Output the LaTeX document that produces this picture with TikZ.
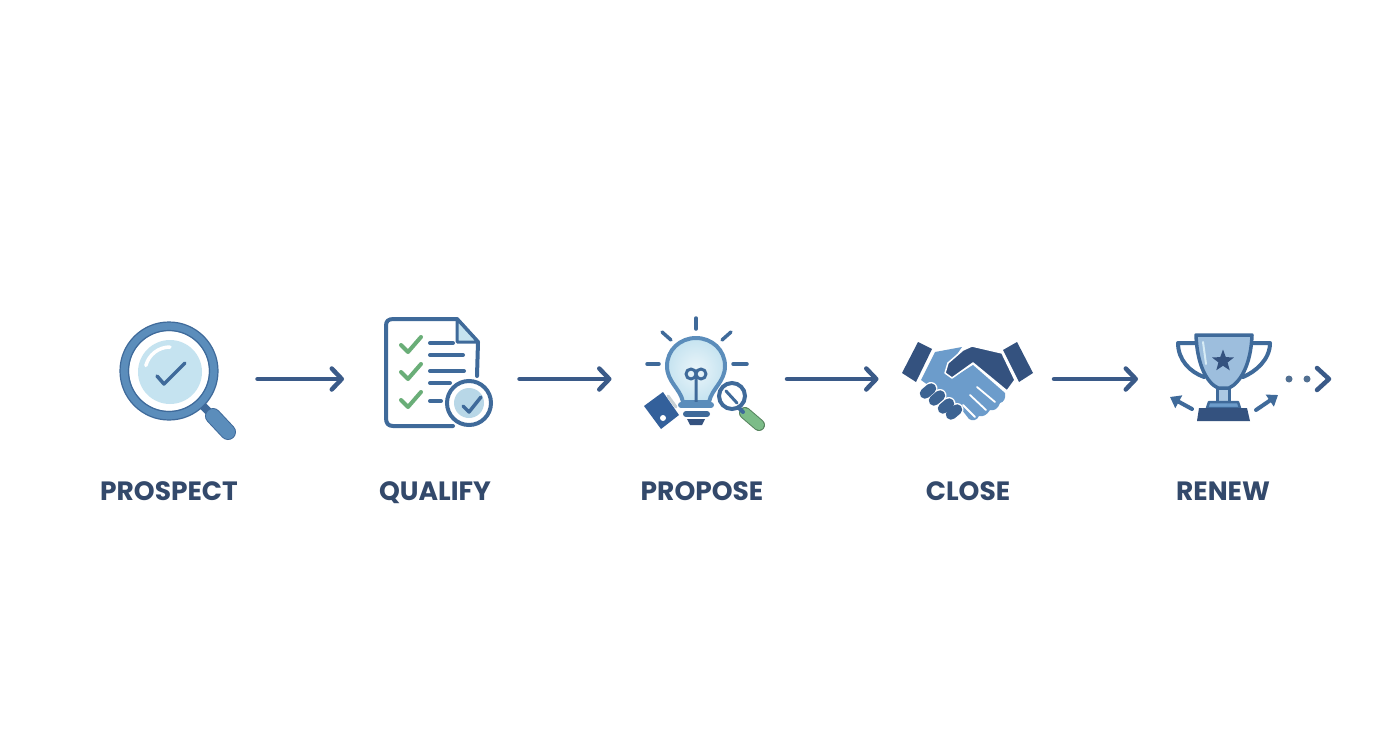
\documentclass[tikz,border=0pt]{standalone}
\usepackage{fontspec}
\setmainfont{Poppins}
\usepackage{tikz}
\usetikzlibrary{arrows.meta,shapes.geometric}
\definecolor{navy}{HTML}{34527F}
\definecolor{arrowblue}{HTML}{3A5A88}
\definecolor{midblue}{HTML}{3F6A9A}
\definecolor{ringblue}{HTML}{5B8DBB}
\definecolor{handblue}{HTML}{6C9CCB}
\definecolor{paleblue}{HTML}{C5E3F0}
\definecolor{cupblue}{HTML}{9DBEDD}
\definecolor{folderblue}{HTML}{33609B}
\definecolor{tickgreen}{HTML}{6AAE78}
\definecolor{gripgreen}{HTML}{7CBC88}
\definecolor{textnavy}{HTML}{33496B}
\tikzset{
 iconbox/.style={minimum width=173pt,minimum height=100pt,inner sep=0pt,outer sep=0pt},
 steplabel/.style={anchor=base,font=\fontsize{26.5}{30}\selectfont\bfseries,text=textnavy},
 flowarrow/.style={draw=arrowblue,line width=4.5pt,line cap=round,shorten <=2.5pt,-{Straight Barb[length=10pt,width=21pt,round]}},
 stroke/.style={line width=#1,line cap=round,line join=round},
 stroke/.default=3.5pt
}
\begin{document}
\begin{tikzpicture}[x=1pt,y=-1pt]
\useasboundingbox (0,0) rectangle (1392,752);
\fill[white] (0,0) rectangle (1392,752);

\node[iconbox] (prospect) at (168.5,379) {};
\node[iconbox] (qualify) at (430.5,379) {};
\node[iconbox] (propose) at (698,379) {};
\node[iconbox] (close) at (965,379) {};
\node[iconbox] (renew) at (1224.5,379) {};

\node[steplabel] (prospectlabel) at (169,500) {PROSPECT};
\node[steplabel] (qualifylabel) at (435,500) {QUALIFY};
\node[steplabel] (proposelabel) at (702,500) {PROPOSE};
\node[steplabel] (closelabel) at (968,500) {CLOSE};
\node[steplabel] (renewlabel) at (1223,500) {RENEW};

\draw[flowarrow] (prospect.east) -- (qualify.west);
\draw[flowarrow] (qualify.east) -- (propose.west);
\draw[flowarrow] (propose.east) -- (close.west);
\draw[flowarrow] (close.east) -- (renew.west);

% magnifier
\draw[stroke=8pt,draw=midblue] (203,406) -- (210,413);
\draw[stroke=16pt,draw=midblue] (213,416) -- (228,432);
\draw[stroke=14pt,draw=ringblue] (213,416) -- (228,432);
\draw[ringblue,line width=9pt] (169,371) circle (44.5);
\draw[midblue,line width=1.2pt] (169,371) circle (49) (169,371) circle (40.5);
\fill[paleblue] (170,372) circle (32);
\draw[white,stroke=3.5pt] (170,372) ++(195:25) arc (195:270:25);
\draw[midblue,stroke=3.5pt] (157,376) -- (164,384) -- (185,363);

% checklist
\draw[midblue,stroke=4pt] (477,376) -- (478,342) -- (457,319) -- (394,319)
  .. controls (388,319) and (386,321) .. (386,326) -- (386,418)
  .. controls (386,423) and (388,426) .. (393,426) -- (453,426);
\draw[midblue,fill=paleblue,stroke=3pt] (457,319) -- (457,342) -- (478,342) -- cycle;
\foreach \ty in {345,372,400}
  \draw[tickgreen,stroke=4pt] (401,\ty) -- (408,\ty+7) -- (421,\ty-8);
\draw[midblue,stroke=4pt] (430,343) -- (453,343) (430,355) -- (463,355)
  (430,371) -- (464,371) (430,383) -- (450,383) (430,401) -- (441,401);
\draw[midblue,fill=white,line width=4pt] (469,403) circle (22);
\fill[paleblue!90!midblue] (469,403) circle (15);
\draw[midblue,stroke=3.5pt] (463,406) -- (469,412) -- (481,397);

% light bulb
\foreach \ax/\ay/\bx/\by in {696/318/696/329,662/332/671/340,731/332/722/340,647/364/659/364,733/364/747/364}
  \draw[midblue,stroke] (\ax,\ay) -- (\bx,\by);
\draw[ringblue,inner color=paleblue!35,outer color=paleblue,stroke=4pt] (683,402) .. controls (680,388) and (667,382) .. (667,366)
  .. controls (667,350) and (680,338) .. (696,338) .. controls (712,338) and (725,350) .. (725,366)
  .. controls (725,382) and (712,388) .. (709,402) -- cycle;
\draw[midblue,stroke=3pt] (696,402) -- (696,380) (691,374) circle (5) (701,374) circle (5);
\draw[ringblue,stroke=6pt] (681,405) -- (711,405);
\draw[midblue,stroke=6pt] (686,414) -- (707,414);
\fill[navy] (687,419) -- (705,419) -- (702,425) -- (690,425) -- cycle;
\fill[folderblue] (644,406) -- (663,392) -- (679,415) -- (661,429) -- cycle;
\fill[white] (663,418) circle (3);
\draw[paleblue!50!gray!60,stroke=3pt] (668,396) -- (676,407);
\draw[gripgreen!70!black,stroke=12pt] (745,413) -- (759,425);
\draw[gripgreen,stroke=10pt] (745,413) -- (759,425);
\draw[midblue,stroke=4pt] (738,407) -- (743,412);
\draw[midblue,fill=white,line width=4pt] (732,396) circle (13);
\draw[midblue,stroke=3pt] (726,391) -- (737,403);

% handshake
\fill[navy] (918,342) -- (932,349) -- (916,382) -- (902,373) -- cycle;
\fill[navy] (1017,342) -- (1003,350) -- (1019,382) -- (1033,373) -- cycle;
\fill[handblue] (935,352) -- (962,347) -- (945,372) -- (952,378) -- (973,365) -- (1005,393)
  .. controls (1006,398) and (1004,402) .. (1000,403) .. controls (998,409) and (994,411) .. (990,410)
  .. controls (987,415) and (983,417) .. (979,416) .. controls (977,421) and (972,421) .. (969,419) -- (962,410) -- (921,380) -- cycle;
\draw[white,stroke=1.8pt] (977,387) -- (995,402) (970,395) -- (986,410) (963,405) -- (975,417);
\foreach \cx/\cy in {928/391,937/398,946/406,954/412}
  \draw[white,stroke=13pt] (\cx-3,\cy+2.5) -- (\cx+3,\cy-2.5);
\foreach \cx/\cy in {928/391,937/398,946/406,954/412}
  \draw[midblue!70!navy,stroke=10.5pt] (\cx-3,\cy+2.5) -- (\cx+3,\cy-2.5);
\draw[white,fill=navy,line width=1.5pt,line join=round] (963,350) -- (972,346) -- (1002,353) -- (1015,380) -- (1007,391)
  -- (973,363) -- (952,378) -- (945,373) -- (948,363) -- cycle;

% trophy
\draw[midblue,stroke=4pt] (1197,343) -- (1178,343) .. controls (1178,360) and (1190,372) .. (1204,377);
\draw[midblue,stroke=4pt] (1250,343) -- (1270,343) .. controls (1270,360) and (1255,372) .. (1243,377);
\draw[midblue,fill=cupblue!85,stroke=3pt] (1217,388) rectangle (1229,402);
\draw[midblue,fill=cupblue,stroke=3.5pt] (1196,335) -- (1252,335) .. controls (1251,365) and (1240,383) .. (1229,388)
  -- (1218,388) .. controls (1207,383) and (1197,365) .. cycle;
\draw[paleblue!70,stroke=2pt] (1203,342) -- (1206,364);
\node[star,star points=5,star point ratio=2.4,fill=navy,inner sep=0pt,minimum size=23pt] (cupstar) at (1223,361) {};
\draw[midblue,fill=handblue,stroke=2.5pt] (1209,402) -- (1238,402) -- (1240,408) -- (1207,408) -- cycle;
\fill[navy] (1199,408) -- (1247,408) -- (1250,421) -- (1197,421) -- cycle;
\coordinate (leftend) at (1170,397);
\coordinate (leftstart) at (1192,409);
\coordinate (rightend) at (1278,395);
\coordinate (rightstart) at (1256,410);
\draw[midblue,stroke=4pt,-{Triangle[length=10pt,width=14pt]}] (leftstart) -- (leftend);
\draw[midblue,stroke=4pt,-{Triangle[length=10pt,width=14pt]}] (rightstart) -- (rightend);
\fill[midblue!70!gray] (1289,379) circle (3.5) (1307,379) circle (3.5);
\draw[arrowblue,stroke=4.5pt] (1317,368) -- (1329,379) -- (1317,390);
\end{tikzpicture}
\end{document}
